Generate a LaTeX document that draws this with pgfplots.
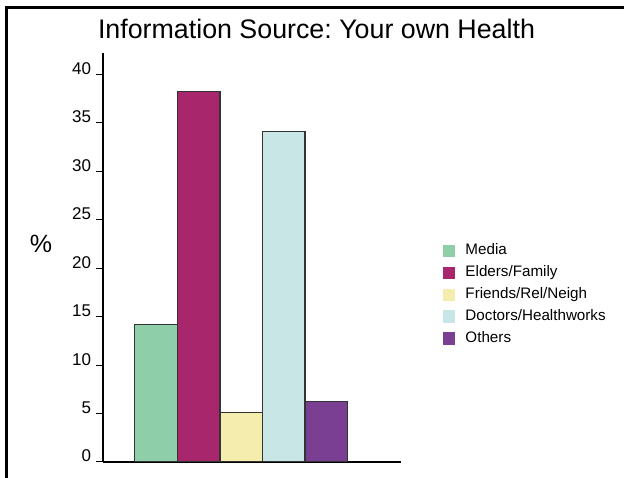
\documentclass[border=0pt]{standalone}
\usepackage{fontspec}
\setmainfont{Liberation Sans}
\usepackage{pgfplots}
\pgfplotsset{compat=1.18}
\frenchspacing
\definecolor{cMedia}{HTML}{8ECFA9}
\definecolor{cElders}{HTML}{A8266C}
\definecolor{cFriends}{HTML}{F5EDAE}
\definecolor{cDoctors}{HTML}{C9E6E6}
\definecolor{cOthers}{HTML}{7A3E93}
\pgfplotsset{
  mybar/.style={ybar, fill=#1, draw=black!80, line width=1.2bp,
    legend image code/.code={\fill[fill=#1,draw=none] (0bp,-6.2bp) rectangle (12.3bp,6.2bp);}},
}
\begin{document}
\begin{tikzpicture}
\useasboundingbox (0,0) rectangle (624bp,478bp);
\fill[white] (0,0) rectangle (624bp,478bp);
\draw[line width=3bp] (6.5bp,0) -- (6.5bp,470.5bp) -- (624bp,470.5bp);
\node[font=\fontsize{26.8bp}{30bp}\selectfont, anchor=base] at (316.5bp,439bp) {Information Source: Your own Health};
\node[font=\fontsize{25bp}{30bp}\selectfont] at (41bp,234bp) {\%};
\begin{axis}[
  at={(103bp,16bp)}, anchor=south west,
  scale only axis, width=297.7bp, height=409bp,
  xmin=-0.25, xmax=6.75, ymin=0, ymax=42.2,
  axis x line=bottom, axis y line=left,
  axis line style={-, line width=1.2bp, black},
  xtick=\empty, ytick={0,5,...,40},
  tick align=outside, major tick length=7bp,
  tick style={line width=1bp, black},
  yticklabel style={font=\fontsize{17bp}{19bp}\selectfont, anchor=base east, xshift=-1.5bp},
  /pgf/number format/assume math mode=true,
  bar width=1,
  legend cell align=left,
  legend style={at={(1.132,0.409)}, anchor=west, draw=none, fill=none,
    font=\fontsize{15.2bp}{18bp}\selectfont, row sep=3.95bp,
    nodes={text height=11bp, text depth=3bp, inner sep=2bp},
    /tikz/every odd column/.append style={column sep=8bp}},
]
\addplot[mybar=cMedia] coordinates {(1,14.2)};
\addlegendentry{Media}
\addplot[mybar=cElders] coordinates {(2,38.2)};
\addlegendentry{Elders/Family}
\addplot[mybar=cFriends] coordinates {(3,5.1)};
\addlegendentry{Friends/Rel/Neigh}
\addplot[mybar=cDoctors] coordinates {(4,34.1)};
\addlegendentry{Doctors/Healthworks}
\addplot[mybar=cOthers] coordinates {(5,6.25)};
\addlegendentry{Others}
\end{axis}
\end{tikzpicture}
\end{document}
